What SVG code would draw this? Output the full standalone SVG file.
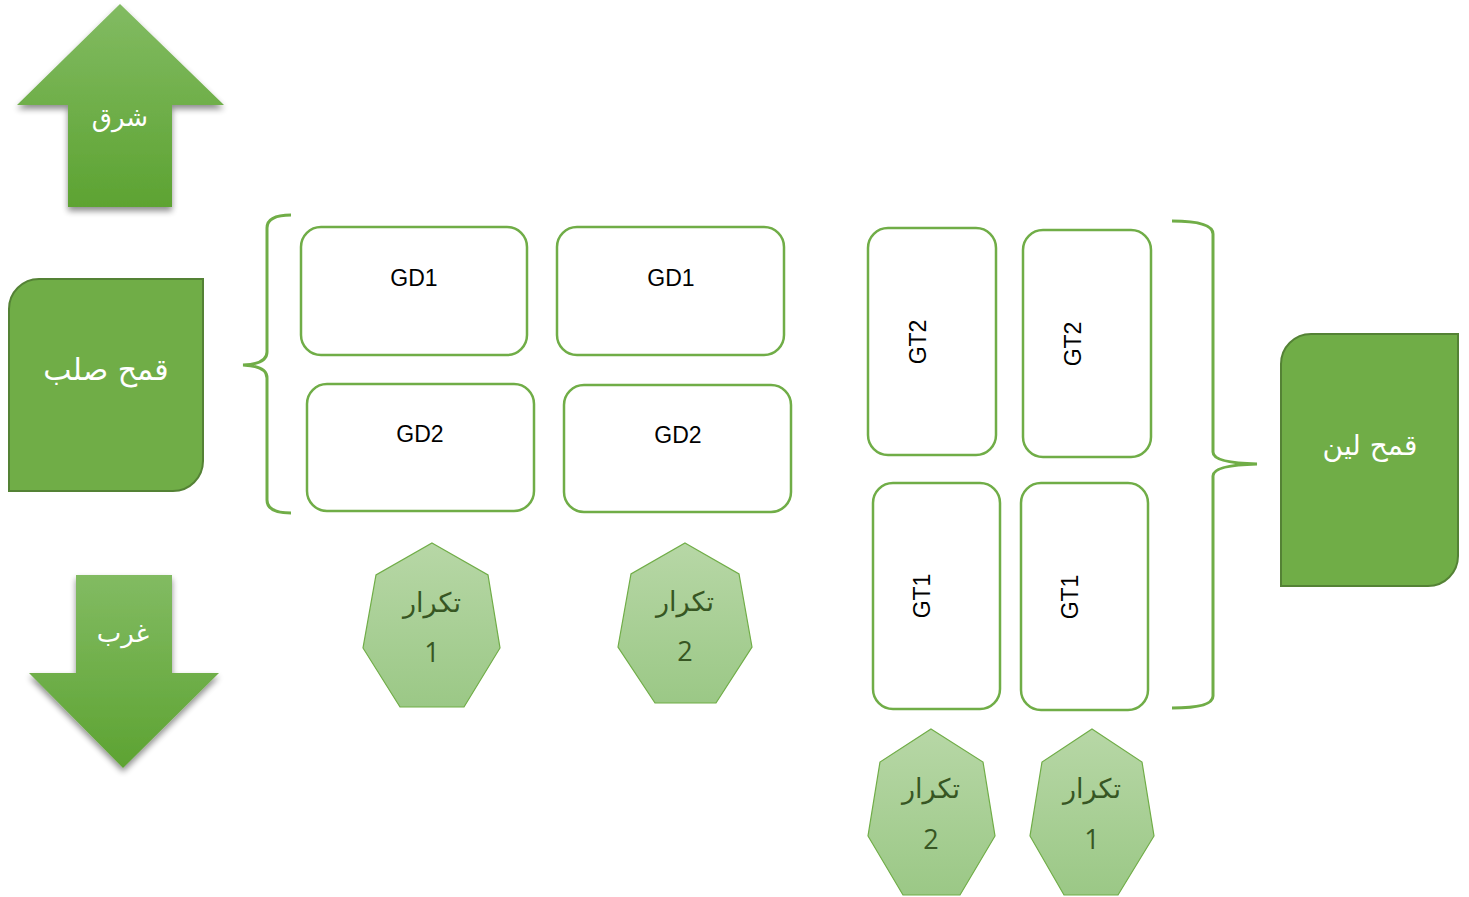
<svg xmlns="http://www.w3.org/2000/svg" width="1469" height="897" viewBox="0 0 1469 897">
<defs>
<linearGradient id="arrowGrad" x1="0" y1="0" x2="0" y2="1">
<stop offset="0" stop-color="#82bb62"/>
<stop offset="1" stop-color="#5da332"/>
</linearGradient>
<linearGradient id="heptGrad" x1="0" y1="0" x2="0" y2="1">
<stop offset="0" stop-color="#b7d7a6"/>
<stop offset="1" stop-color="#9bc886"/>
</linearGradient>
<filter id="shadow" x="-20%" y="-20%" width="140%" height="140%">
<feGaussianBlur in="SourceAlpha" stdDeviation="3"/>
<feOffset dx="0" dy="4" result="b"/>
<feComponentTransfer><feFuncA type="linear" slope="0.45"/></feComponentTransfer>
<feMerge><feMergeNode/><feMergeNode in="SourceGraphic"/></feMerge>
</filter>
</defs>
<style>
.arrow{fill:url(#arrowGrad);filter:url(#shadow)}
.main{fill:#70ad47;stroke:#548235;stroke-width:2}
.box{fill:#ffffff;stroke:#70ad47;stroke-width:2.5}
.hept{fill:url(#heptGrad);stroke:#70ad47;stroke-width:1.2}
.brace{fill:none;stroke:#70ad47;stroke-width:3}
.wt{fill:#ffffff;font-family:"DejaVu Sans",sans-serif;font-size:26px;text-anchor:middle}
.big{font-size:30px}
.mid{font-size:28px}
.lbl{fill:#000000;font-family:"Liberation Sans",sans-serif;font-size:23px;text-anchor:middle}
.ht{fill:#375623;font-family:"DejaVu Sans",sans-serif;font-size:27px;text-anchor:middle}
.hn{fill:#375623;font-family:"Open Sans","Liberation Sans",sans-serif;font-size:27px;text-anchor:middle}
</style>
<g id="east">
<polygon class="arrow" points="120,4 224,105 172,105 172,207 68,207 68,105 17,105"/>
<text class="wt" x="120" y="126" direction="rtl">شرق</text>
</g>
<g id="west">
<polygon class="arrow" points="76,575 172,575 172,673 219,673 123,768 29,673 76,673"/>
<text class="wt" x="123" y="642" direction="rtl">غرب</text>
</g>
<g id="durum">
<path class="main" d="M39,279 H203 V461 A30,30 0 0 1 173,491 H9 V309 A30,30 0 0 1 39,279 Z"/>
<text class="wt big" x="106" y="380" direction="rtl">قمح صلب</text>
</g>
<g id="soft">
<path class="main" d="M1311,334 H1458 V556 A30,30 0 0 1 1428,586 H1281 V364 A30,30 0 0 1 1311,334 Z"/>
<text class="wt mid" x="1370" y="455" direction="rtl">قمح لين</text>
</g>
<g id="connectors">
<path class="brace" d="M291,215 Q267,215 267,228 V352 Q267,364 243,365 Q267,366 267,378 V500 Q267,513 291,513"/>
<path class="brace" d="M1172,221 Q1213,221 1213,234 V452 Q1213,463 1257,464 Q1213,465 1213,476 V696 Q1213,708 1172,708"/>
</g>
<g id="gd1a"><rect class="box" x="301" y="227" width="226" height="128" rx="20"/><text class="lbl" x="414" y="286">GD1</text></g>
<g id="gd1b"><rect class="box" x="557" y="227" width="227" height="128" rx="20"/><text class="lbl" x="671" y="286">GD1</text></g>
<g id="gd2a"><rect class="box" x="307" y="384" width="227" height="127" rx="20"/><text class="lbl" x="420" y="442">GD2</text></g>
<g id="gd2b"><rect class="box" x="564" y="385" width="227" height="127" rx="20"/><text class="lbl" x="678" y="443">GD2</text></g>
<g id="gt2a"><rect class="box" x="868" y="228" width="128" height="227" rx="20"/><text class="lbl" transform="translate(926,342) rotate(-90)">GT2</text></g>
<g id="gt2b"><rect class="box" x="1023" y="230" width="128" height="227" rx="20"/><text class="lbl" transform="translate(1081,344) rotate(-90)">GT2</text></g>
<g id="gt1a"><rect class="box" x="873" y="483" width="127" height="226" rx="20"/><text class="lbl" transform="translate(930,596) rotate(-90)">GT1</text></g>
<g id="gt1b"><rect class="box" x="1021" y="483" width="127" height="227" rx="20"/><text class="lbl" transform="translate(1078,597) rotate(-90)">GT1</text></g>
<g id="rep1a"><polygon class="hept" points="432,543 488,575 500,648 464,707 400,707 363,648 376,575"/><text class="ht" x="432" y="612" direction="rtl">تكرار</text><text class="hn" x="432" y="662">1</text></g>
<g id="rep2a"><polygon class="hept" points="685,543 739,574 752,647 716,703 655,703 618,647 631,574"/><text class="ht" x="685" y="611" direction="rtl">تكرار</text><text class="hn" x="685" y="661">2</text></g>
<g id="rep2b"><polygon class="hept" points="931,729 983,762 995,836 960,895 903,895 868,836 880,762"/><text class="ht" x="931" y="798" direction="rtl">تكرار</text><text class="hn" x="931" y="849">2</text></g>
<g id="rep1b"><polygon class="hept" points="1092,729 1142,762 1154,836 1118,895 1064,895 1030,836 1042,762"/><text class="ht" x="1092" y="798" direction="rtl">تكرار</text><text class="hn" x="1092" y="849">1</text></g>
</svg>
